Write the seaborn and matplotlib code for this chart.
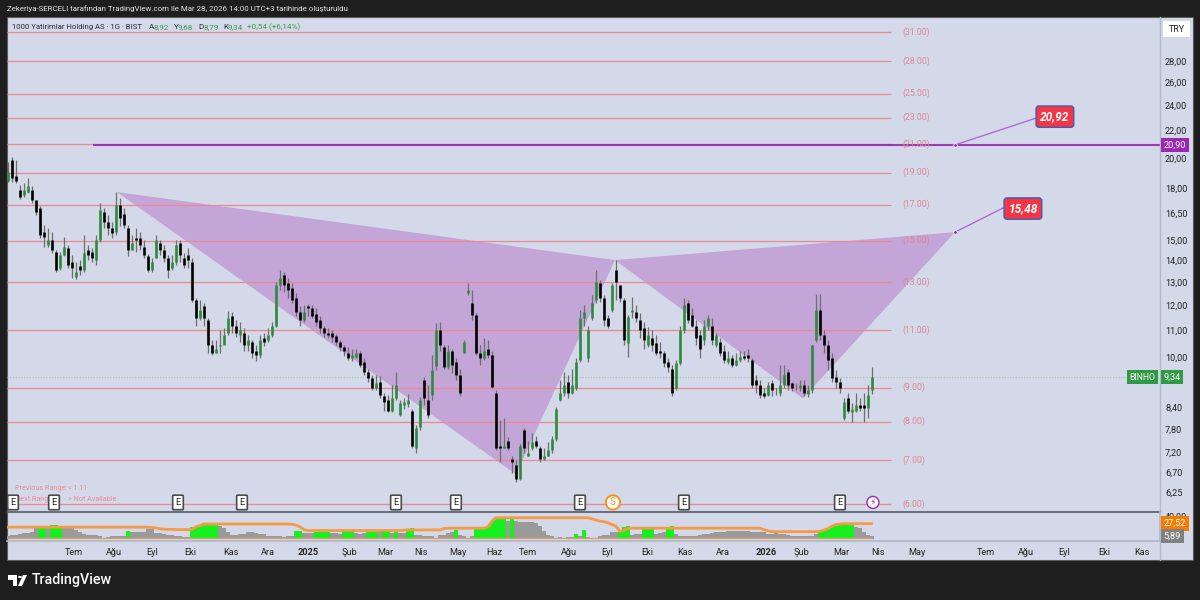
import numpy as np
import pandas as pd
import matplotlib
matplotlib.use("Agg")
import matplotlib.pyplot as plt
from matplotlib.patches import Rectangle, Polygon, Circle
from matplotlib.lines import Line2D
import seaborn as sns

#? Candles, one row per 10 bars
opens = [
    18.48, 19.85, 18.78, 17.88, 17.57, 17.76, 17.88, 17.27, 16.79, 15.45,
    14.76, 15.03, 14.41, 13.63, 14.26, 14.61, 13.92, 13.21, 13.73, 13.54,
    14.51, 14.41, 14.02, 15.03, 16.56, 16.00, 15.66, 15.45, 16.97, 16.45,
    15.66, 14.51, 15.13, 15.13, 14.66, 14.21, 13.54, 14.11, 14.87, 14.51,
    14.11, 13.63, 13.92, 14.87, 14.11, 14.26, 13.92, 12.19, 11.45, 11.94,
    11.37, 10.43, 10.17, 10.39, 10.43, 10.90, 11.53, 11.14, 10.79, 10.90,
    10.43, 10.53, 10.24, 10.07, 10.68, 10.61, 10.79, 11.17, 12.85, 13.30,
    12.94, 12.72, 12.28, 11.69, 11.37, 11.94, 11.86, 11.61, 11.37, 11.06,
    10.87, 10.87, 10.76, 10.53, 10.35, 10.14, 9.97, 10.00, 10.14, 9.83,
    9.49, 9.30, 8.98, 9.17, 8.73, 8.61, 8.31, 8.67, 8.18, 8.46,
    8.49, 8.31, 7.31, 7.84, 9.23, 8.61, 8.76, 9.72, 10.98, 10.35,
    9.66, 10.24, 9.83, 9.39, 10.14, 12.49, 12.07, 11.57, 10.17, 9.97,
    10.31, 10.07, 8.85, 7.36, 7.31, 7.49, 7.03, 6.87, 6.56, 7.76,
    7.11, 7.29, 7.49, 7.31, 7.03, 7.11, 7.24, 7.54, 8.61, 8.82,
    9.17, 8.85, 8.98, 9.90, 11.45, 9.97, 11.45, 12.19, 12.94, 12.28,
    11.45, 11.77, 13.54, 12.85, 12.19, 10.50, 11.69, 11.69, 11.37, 11.06,
    10.43, 10.68, 10.50, 10.24, 10.17, 9.83, 9.62, 8.98, 9.79, 10.98,
    12.07, 11.57, 11.17, 10.79, 10.61, 11.17, 11.17, 10.43, 10.53, 10.24,
    9.83, 9.97, 9.73, 9.90, 10.03, 10.07, 9.90, 9.23, 9.07, 8.85,
    8.76, 9.14, 8.82, 8.82, 9.07, 9.49, 9.14, 9.04, 8.98, 9.07,
    8.79, 8.92, 10.61, 11.77, 10.79, 10.43, 9.97, 9.33, 9.17, 8.09,
    8.67, 8.26, 8.31, 8.46, 8.46, 8.40, 8.92,
]
closes = [
    19.04, 18.65, 18.48, 17.45, 17.88, 18.13, 17.27, 16.56, 15.29, 15.18,
    15.03, 14.51, 13.54, 14.26, 14.66, 13.78, 13.63, 13.44, 13.54, 14.36,
    14.26, 14.11, 15.03, 16.68, 16.00, 15.66, 15.40, 16.97, 16.22, 15.83,
    14.51, 14.87, 15.03, 14.76, 14.26, 13.54, 13.92, 15.03, 14.51, 14.11,
    13.54, 13.92, 14.76, 14.26, 13.78, 14.02, 12.19, 11.45, 11.77, 11.45,
    10.43, 10.17, 10.31, 10.43, 10.79, 11.45, 11.17, 10.90, 10.98, 10.43,
    10.61, 10.17, 10.07, 10.61, 10.53, 10.79, 11.17, 12.85, 13.16, 12.85,
    12.63, 12.19, 11.69, 11.37, 11.69, 11.86, 11.53, 11.29, 11.06, 10.90,
    10.79, 10.72, 10.53, 10.35, 10.21, 9.97, 10.07, 10.17, 9.73, 9.49,
    9.30, 8.98, 9.14, 8.76, 8.55, 8.31, 8.67, 9.07, 8.52, 8.55,
    8.61, 7.36, 7.81, 8.61, 8.67, 8.18, 9.56, 10.98, 10.43, 9.66,
    10.24, 9.73, 9.39, 8.82, 10.53, 12.63, 11.57, 10.17, 9.97, 10.24,
    10.07, 9.01, 7.31, 7.31, 7.36, 7.29, 6.94, 6.56, 7.36, 7.31,
    7.18, 7.44, 7.36, 7.03, 7.11, 7.24, 7.54, 8.37, 8.85, 9.07,
    8.82, 9.07, 9.83, 11.45, 11.69, 10.98, 12.07, 12.98, 12.28, 11.37,
    11.17, 12.85, 12.98, 12.28, 10.61, 11.49, 11.77, 11.45, 10.98, 10.61,
    10.79, 10.43, 10.17, 10.14, 9.79, 9.66, 8.85, 9.79, 10.98, 11.98,
    11.37, 11.17, 10.68, 10.31, 11.17, 11.45, 10.61, 10.79, 10.17, 9.90,
    9.97, 9.73, 9.90, 10.00, 9.97, 9.97, 9.07, 9.07, 8.76, 8.73,
    9.07, 8.92, 8.82, 9.07, 9.39, 9.07, 8.98, 9.04, 9.07, 8.85,
    8.92, 10.43, 11.77, 10.79, 10.43, 9.90, 9.30, 9.17, 8.98, 8.55,
    8.31, 8.37, 8.46, 8.40, 8.40, 8.76, 9.34,
]
highs = [
    19.71, 20.06, 19.85, 18.20, 18.33, 18.65, 18.13, 17.27, 16.91, 15.83,
    15.66, 15.45, 14.51, 14.41, 15.18, 14.76, 14.26, 13.92, 14.02, 15.29,
    14.76, 14.61, 15.29, 17.09, 16.79, 16.39, 16.00, 17.76, 17.39, 16.79,
    15.83, 15.29, 15.66, 15.45, 15.03, 14.31, 14.11, 15.29, 15.03, 14.76,
    14.26, 14.26, 15.03, 15.03, 14.36, 14.61, 14.11, 12.28, 12.19, 12.07,
    11.45, 10.61, 10.61, 10.98, 11.06, 11.73, 11.69, 11.37, 11.29, 11.06,
    10.79, 10.61, 10.43, 10.79, 10.90, 11.06, 11.29, 12.98, 13.54, 13.44,
    13.16, 12.94, 12.49, 11.94, 11.98, 12.03, 11.98, 11.86, 11.53, 11.17,
    11.06, 10.98, 10.83, 10.61, 10.43, 10.35, 10.31, 10.31, 10.24, 9.97,
    9.62, 9.39, 9.39, 9.36, 8.85, 8.76, 9.07, 9.49, 8.61, 8.67,
    8.79, 8.37, 7.90, 8.70, 9.33, 9.07, 10.07, 11.25, 11.29, 10.43,
    10.43, 10.31, 9.97, 9.62, 10.61, 12.94, 12.63, 11.65, 10.43, 10.68,
    10.61, 10.24, 8.92, 8.03, 8.09, 7.57, 7.11, 6.99, 7.41, 7.81,
    7.49, 7.68, 7.60, 7.36, 7.29, 7.44, 7.60, 8.43, 9.23, 9.49,
    9.39, 9.62, 9.97, 11.77, 11.98, 11.17, 12.41, 13.54, 13.07, 12.41,
    11.57, 12.94, 14.02, 12.85, 12.28, 11.57, 12.32, 11.98, 11.65, 11.29,
    11.10, 10.98, 10.79, 10.53, 10.24, 9.97, 9.73, 9.90, 11.17, 12.28,
    12.19, 11.86, 11.37, 10.98, 11.37, 11.57, 11.45, 10.90, 10.68, 10.43,
    10.24, 10.07, 10.17, 10.24, 10.24, 10.31, 9.97, 9.39, 9.23, 8.98,
    9.17, 9.23, 8.98, 9.73, 9.73, 9.62, 9.17, 9.14, 9.23, 9.23,
    9.07, 10.43, 12.45, 12.45, 10.98, 10.61, 10.17, 9.56, 9.30, 8.67,
    8.85, 8.52, 8.85, 8.67, 8.82, 9.07, 9.68,
]
lows = [
    18.39, 18.39, 18.33, 17.33, 17.45, 17.70, 17.09, 16.39, 15.13, 14.66,
    14.66, 14.36, 13.44, 13.54, 14.21, 13.63, 13.16, 13.12, 13.30, 13.44,
    14.02, 13.92, 13.78, 14.92, 15.66, 15.29, 15.13, 15.29, 15.77, 15.66,
    14.21, 14.51, 14.41, 14.51, 14.11, 13.44, 13.44, 14.11, 14.26, 13.92,
    13.16, 13.54, 13.78, 13.92, 13.63, 13.63, 12.11, 11.17, 11.37, 11.17,
    10.17, 10.07, 10.14, 10.17, 10.61, 10.79, 10.90, 10.72, 10.53, 10.24,
    10.24, 9.97, 9.86, 9.97, 10.39, 10.53, 10.72, 11.10, 12.63, 12.54,
    12.28, 12.07, 11.53, 11.14, 11.29, 11.53, 11.45, 11.14, 10.90, 10.72,
    10.68, 10.53, 10.43, 10.21, 10.03, 9.90, 9.86, 9.97, 9.66, 9.39,
    9.17, 8.92, 8.92, 8.67, 8.31, 8.26, 8.26, 8.61, 8.15, 8.37,
    8.43, 7.31, 7.18, 7.76, 8.46, 8.09, 8.61, 9.56, 10.24, 9.60,
    9.60, 9.46, 9.23, 8.73, 10.14, 12.41, 11.37, 10.07, 9.73, 9.90,
    9.97, 8.98, 7.24, 6.94, 7.29, 7.24, 6.68, 6.49, 6.52, 7.18,
    7.09, 7.24, 7.29, 6.94, 6.99, 7.09, 7.18, 7.49, 8.58, 8.73,
    8.67, 8.79, 8.92, 9.83, 11.17, 9.83, 11.37, 12.07, 12.11, 11.17,
    11.06, 11.69, 12.19, 12.11, 10.43, 10.00, 11.45, 11.29, 10.68, 10.31,
    10.35, 10.24, 10.07, 9.97, 9.66, 9.49, 8.73, 8.92, 9.73, 10.90,
    11.25, 11.10, 10.43, 9.97, 10.43, 10.98, 10.43, 10.35, 10.03, 9.79,
    9.76, 9.66, 9.69, 9.83, 9.90, 9.83, 8.98, 8.85, 8.67, 8.67,
    8.73, 8.73, 8.76, 8.73, 8.98, 8.92, 8.89, 8.92, 8.89, 8.73,
    8.70, 8.85, 10.53, 10.61, 10.17, 9.56, 9.17, 8.98, 8.85, 8.03,
    8.23, 7.98, 8.26, 8.31, 8.00, 8.09, 8.79,
]

#? Indicator panel
hist_vals = [
    6, 7, 8, 10, 11, 11, 13, 20, 24, 24,
    20, 26, 25, 23, 20, 21, 20, 17, 12, 9,
    8, 7, 8, 6, 2, 4, 5, 5, 5, 6,
    14, 13, 12, 12, 13, 18, 19, 11, 11, 10,
    8, 8, 6, 5, 4, 4, 22, 22, 24, 28,
    29, 26, 26, 24, 20, 12, 7, 8, 9, 10,
    12, 13, 11, 10, 9, 6, 5, 5, 5, 4,
    6, 6, 14, 15, 11, 11, 11, 12, 12, 13,
    13, 11, 11, 10, 14, 14, 14, 11, 10, 11,
    13, 13, 13, 14, 15, 15, 11, 13, 11, 11,
    19, 20, 8, 7, 6, 5, 5, 3, 7, 8,
    11, 13, 17, 8, 5, 3, 6, 21, 22, 21,
    22, 32, 38, 40, 39, 33, 36, 33, 31, 31,
    30, 30, 28, 24, 15, 8, 5, 3, 4, 3,
    4, 4, 10, 5, 16, 4, 3, 3, 6, 7,
    8, 12, 13, 13, 22, 23, 8, 9, 10, 20,
    20, 20, 9, 11, 12, 22, 23, 10, 5, 5,
    5, 5, 6, 8, 9, 10, 11, 13, 13, 13,
    14, 14, 15, 15, 14, 14, 13, 13, 13, 12,
    9, 10, 11, 10, 9, 7, 6, 6, 5, 5,
    5, 6, 10, 15, 16, 20, 23, 24, 28, 28,
    29, 28, 22, 20, 13, 8, 5.89,
]
upper_vals = [
    21.4, 21.4, 21.4, 21.4, 21.4, 21.4, 21.4, 21.4, 21.4, 21.4,
    21.4, 21.4, 21.4, 21.4, 21.4, 21.4, 21.4, 21.4, 21.4, 21.4,
    21.4, 21.4, 21.4, 21.4, 21.4, 21.4, 21.4, 21.4, 21.4, 21.4,
    21.4, 21.4, 21.4, 21.4, 21.4, 21.2, 21.0, 20.0, 18.5, 18.0,
    17.5, 17.5, 17.0, 17.0, 17.0, 17.0, 17.0, 22.0, 24.0, 27.0,
    27.0, 27.0, 27.0, 27.0, 27.0, 27.0, 27.0, 27.0, 27.0, 27.0,
    27.0, 27.0, 27.0, 27.0, 27.0, 27.0, 27.0, 27.0, 27.0, 27.0,
    27.0, 26.5, 25.0, 22.0, 17.0, 15.5, 15.5, 15.5, 15.5, 15.5,
    15.5, 15.5, 15.5, 15.5, 15.5, 15.5, 15.5, 15.5, 15.5, 15.5,
    15.5, 15.5, 15.5, 15.5, 15.5, 15.5, 15.5, 15.5, 15.5, 16.0,
    16.5, 16.5, 16.5, 16.5, 16.5, 16.5, 16.5, 16.5, 16.5, 19.0,
    19.6, 19.6, 19.6, 19.6, 19.6, 19.6, 19.6, 19.6, 19.6, 19.6,
    22.0, 32.0, 38.0, 38.0, 38.0, 38.0, 38.0, 38.0, 38.0, 38.0,
    38.0, 38.0, 38.0, 38.0, 38.0, 38.0, 38.0, 38.0, 38.0, 38.0,
    38.0, 38.0, 38.0, 38.0, 38.0, 38.0, 36.0, 34.0, 32.0, 31.0,
    29.0, 26.0, 23.0, 14.0, 16.0, 19.0, 19.6, 19.6, 19.6, 19.6,
    19.6, 19.6, 19.6, 19.6, 19.6, 19.6, 19.6, 19.6, 19.6, 19.6,
    19.6, 19.6, 19.6, 19.6, 19.6, 19.6, 19.6, 19.6, 19.6, 19.6,
    19.6, 19.6, 19.6, 19.6, 19.6, 19.6, 19.6, 19.6, 19.6, 17.0,
    15.0, 13.5, 13.5, 13.5, 13.5, 13.5, 13.5, 13.5, 13.5, 13.5,
    13.5, 13.5, 13.5, 14.0, 16.0, 19.0, 23.0, 26.0, 27.0, 27.5,
    27.52, 27.52, 27.52, 27.52, 27.52, 27.52, 27.52,
]
lower_band = 2.2
green_start = [8, 11, 30, 46, 72, 77, 84, 90, 94, 97, 100, 112, 117, 126, 142, 144, 153, 159, 165, 203]
green_end = [9, 13, 30, 52, 73, 80, 86, 92, 95, 97, 101, 112, 124, 126, 142, 144, 155, 161, 166, 211]

#? Levels, pattern and callouts
fib_levels = [31, 28, 25, 23, 21, 19, 17, 15, 13, 11, 9, 8, 7, 6]
pattern_left_x = [27.25, 127, 151.75]
pattern_left_y = [17.76, 6.66, 14.02]
pattern_right_x = [151.75, 236.75, 198.75]
pattern_right_y = [14.02, 15.45, 8.67]
target_x = [236.75, 257]
target_y = [20.92, 22.96]
target2_x = [236.75, 248.75]
target2_y = [15.45, 16.8]

#? Axis labels and events
price_ticks = [28, 26, 24, 22, 20, 18, 16.5, 15, 14, 13, 12, 11, 10, 9.4, 8.4, 7.8, 7.2, 6.7, 6.25]
price_labels = ["28,00", "26,00", "24,00", "22,00", "20,00", "18,00", "16,50", "15,00", "14,00", "13,00",
                "12,00", "11,00", "10,00", "9,40", "8,40", "7,80", "7,20", "6,70", "6,25"]
month_pos = [16.5, 26.5, 36, 45.5, 55.75, 65, 75, 85.25, 94.25, 103.25, 112.5, 121.5, 130, 140.25,
             149.75, 159.75, 169.25, 178.75, 189.5, 198.5, 208.25, 217.5, 227.25, 244.5, 254.5, 264, 274, 283.5]
month_labels = ["Tem", "Ağu", "Eyl", "Eki", "Kas", "Ara", "2025", "Şub", "Mar", "Nis", "May", "Haz", "Tem", "Ağu",
                "Eyl", "Eki", "Kas", "Ara", "2026", "Şub", "Mar", "Nis", "May", "Tem", "Ağu", "Eyl", "Eki", "Kas"]
earnings_pos = [1.25, 11.5, 42.5, 58.5, 97, 112, 143, 169, 208]

BG = "#d3d9e8"
DARK = "#1e1e1e"
PINK = "#ee8794"
PURPLE = "#9c27b0"
GREEN = "#2e8b3e"

sns.set_theme(style="white")
plt.rcParams["font.family"] = ["Roboto", "DejaVu Sans"]
plt.rcParams["axes.unicode_minus"] = False

W, H = 1200, 600
fig = plt.figure(figsize=(12, 6), dpi=100, facecolor=DARK)


def box(x0, y0, x1, y1):
    return [x0 / W, 1 - y1 / H, (x1 - x0) / W, (y1 - y0) / H]


def fx(x):
    return x / W


def fy(y):
    return 1 - y / H


fig.add_artist(Rectangle((fx(7), fy(560)), 1186 / W, 543 / H, transform=fig.transFigure,
                         fc=BG, ec="#5a5a5a", lw=0.8, zorder=-5))

ax = fig.add_axes(box(7, 17, 1159.5, 511.5))
ax_vol = fig.add_axes(box(7, 511.5, 1159.5, 541), sharex=ax)
for a in (ax, ax_vol):
    a.patch.set_alpha(0)

bars = np.arange(len(closes))
opens_a, closes_a = np.array(opens), np.array(closes)
up = closes_a >= opens_a

#! Price panel
ax.set_yscale("log")
ax.fill(pattern_left_x, pattern_left_y, color="#c3a5d8", lw=0, zorder=1)
ax.fill(pattern_right_x, pattern_right_y, color="#c3a5d8", lw=0, zorder=1)

for lev in fib_levels:
    ax.hlines(lev, -0.25, 220.75, color=PINK, lw=0.9, zorder=2)
    ax.text(223.5, lev, f"({lev:.2f})", color="#e48592", fontsize=6.2, va="center", ha="left", zorder=3)
ax.hlines(20.9, 21.25, 288, color=PURPLE, lw=1.5, alpha=0.9, zorder=2.5)

ax.hlines(closes[-1], -0.25, 288, color="#a9bfa8", lw=0.8, linestyles=(0, (1, 1.5)), zorder=2)

ax.vlines(bars, lows, highs, color="#6f6f6f", lw=0.9, zorder=4)
ax.vlines(bars, np.minimum(opens_a, closes_a), np.maximum(opens_a, closes_a),
          colors=[GREEN if u else "#000000" for u in up], lw=1.9, zorder=5)

sns.lineplot(x=target_x, y=target_y, color="#b06bcf", lw=1, ax=ax, zorder=6, errorbar=None, sort=False)
sns.lineplot(x=target2_x, y=target2_y, color="#b06bcf", lw=1, ax=ax, zorder=6, errorbar=None, sort=False)
ax.plot([target_x[0], target2_x[0]], [target_y[0], target2_y[0]], ls="", marker="o", ms=2.6,
        mfc=PURPLE, mec="white", mew=0.5, zorder=7)

for tx, ty, lab in [(261.75, 23.08, "20,92"), (253.75, 16.77, "15,48")]:
    ax.text(tx, ty, lab, color="white", fontsize=8.6, fontweight="bold", fontstyle="italic",
            ha="center", va="center", zorder=8,
            bbox=dict(boxstyle="round,pad=0.35,rounding_size=0.25", fc="#f23645", ec="#3f5fb0", lw=1))

for pos in earnings_pos:
    ax.text(pos, 6.04, "E", color="#222222", fontsize=6.6, ha="center", va="center", zorder=8,
            bbox=dict(boxstyle="round,pad=0.3,rounding_size=0.1", fc="white", ec="#4a4a4a", lw=1.2))
ax.text(151.25, 6.04, "S", color="#f08a1d", fontsize=7, ha="center", va="center", zorder=8,
        bbox=dict(boxstyle="circle,pad=0.22", fc="white", ec="#f5921e", lw=1.4))
ax.text(216.25, 6.04, "⚡", color="#9c27b0", fontsize=6.8, ha="center", va="center", zorder=8,
        family=["DejaVu Sans"], bbox=dict(boxstyle="circle,pad=0.16", fc="white", ec="#9c27b0", lw=1))

ax.text(1.75, 6.34, "Previous Range:", color="#ec8b9a", fontsize=5.2, va="center", zorder=3)
ax.text(15, 6.34, "< 1.11", color="#ec8b9a", fontsize=5.2, va="center", zorder=3)
ax.text(1.75, 6.10, "Next Range:", color="#ec8b9a", fontsize=5.2, va="center", zorder=3)
ax.text(15, 6.10, "> Not Available", color="#ec8b9a", fontsize=5.2, va="center", zorder=3)

ax.set_xlim(-0.25, 287.9)
ax.set_ylim(5.853, 32.63)
ax.set_yticks(price_ticks)
ax.set_yticklabels(price_labels)
ax.minorticks_off()
ax.yaxis.tick_right()
ax.tick_params(axis="y", length=0, pad=4, labelsize=6.6, colors="#222222")
ax.tick_params(axis="x", length=0, labelbottom=False)
ax.set_xlabel("")
ax.set_ylabel("")

#? Price labels on the scale
ytr = ax.get_yaxis_transform()
ax.text(1.0035, 20.9, "20,90", transform=ytr, color="white", fontsize=6.6, va="center", ha="left", zorder=9,
        bbox=dict(boxstyle="square,pad=0.3", fc=PURPLE, ec="none"))
ax.text(1.0035, closes[-1], "9,34", transform=ytr, color="white", fontsize=6.6, va="center", ha="left", zorder=9,
        bbox=dict(boxstyle="square,pad=0.3", fc="#2f9a43", ec="none"))
ax.text(0.9965, closes[-1], "BINHO", transform=ytr, color="white", fontsize=6.2, va="center", ha="right", zorder=9,
        bbox=dict(boxstyle="square,pad=0.3", fc="#2f9a43", ec="none"))

for side in ["top", "left"]:
    ax.spines[side].set_visible(False)
ax.spines["bottom"].set_color("#4c4f5a")
ax.spines["bottom"].set_linewidth(1.1)
ax.spines["right"].set_color("#b2b8c8")
ax.spines["right"].set_linewidth(1)

#! Indicator panel
is_green = np.zeros(len(hist_vals), dtype=bool)
for s, e in zip(green_start, green_end):
    is_green[s:e + 1] = True
hist_df = pd.DataFrame({"bar": bars, "value": hist_vals, "state": np.where(is_green, "on", "off")})
sns.barplot(data=hist_df, x="bar", y="value", hue="state", palette={"on": "#17f01f", "off": "#9a9a9a"},
            native_scale=True, dodge=False, width=1, saturation=1, legend=False, ax=ax_vol, linewidth=0, zorder=2)
sns.lineplot(x=bars, y=upper_vals, color="#f59a45", lw=2, ax=ax_vol, errorbar=None, zorder=3)
ax_vol.hlines(lower_band, 0, bars[-1], color="#f0a060", lw=1, alpha=0.8, zorder=3)

ax_vol.set_xlim(-0.25, 287.9)
ax_vol.set_ylim(-3, 49)
ax_vol.set_yticks([40])
ax_vol.set_yticklabels(["40,00"])
ax_vol.yaxis.tick_right()
ax_vol.tick_params(axis="y", length=0, pad=4, labelsize=6.6, colors="#222222")
ax_vol.set_xticks(month_pos)
ax_vol.set_xticklabels(month_labels)
ax_vol.tick_params(axis="x", length=0, pad=5, labelsize=6.6, colors="#222222")
for lab in ax_vol.get_xticklabels():
    if lab.get_text() in ("2025", "2026"):
        lab.set_fontweight("bold")
ax_vol.set_xlabel("")
ax_vol.set_ylabel("")
for side in ["top", "left"]:
    ax_vol.spines[side].set_visible(False)
ax_vol.spines["bottom"].set_color("#b2b8c8")
ax_vol.spines["right"].set_color("#b2b8c8")

ytr2 = ax_vol.get_yaxis_transform()
ax_vol.text(1.0035, 27.52, "27,52", transform=ytr2, color="white", fontsize=6.6, va="center", ha="left", zorder=9,
            bbox=dict(boxstyle="square,pad=0.3", fc="#f57c00", ec="none"))
ax_vol.text(1.0035, 5.89, "5,89", transform=ytr2, color="white", fontsize=6.6, va="center", ha="left", zorder=9,
            bbox=dict(boxstyle="square,pad=0.3", fc="#808080", ec="none"))
fig.add_artist(Line2D([fx(1159.5), fx(1159.5)], [fy(541), fy(560)], color="#b2b8c8", lw=1))

#! Header, legend and logo
fig.text(fx(7), fy(9), "Zekeriya-SERCELI tarafından TradingView.com ile Mar 28, 2026 14:00 UTC+3 tarihinde oluşturuldu",
         color="#e4e4e4", fontsize=5.7, va="center")
fig.add_artist(Rectangle((fx(1163), fy(37)), 27 / W, 16 / H, transform=fig.transFigure, fc="white", ec="none", zorder=5))
fig.text(fx(1176.5), fy(29), "TRY", color="#222222", fontsize=6.4, va="center", ha="center", zorder=6)

fig.text(fx(12), fy(27), "1000 Yatirimlar Holding AS · 1G · BIST", color="#2a2e39", fontsize=5.6, va="center")
legend_green = "#3f9d4f"
for xp, s, c in [(149, "A", "#2a2e39"), (154, "8,92", legend_green), (174, "Y", "#2a2e39"), (178, "9,68", legend_green),
                 (198, "D", "#2a2e39"), (203, "8,79", legend_green), (223, "K", "#2a2e39"), (228, "9,34", legend_green),
                 (247, "+0,54 (+6,14%)", legend_green)]:
    fig.text(fx(xp), fy(27), s, color=c, fontsize=5.9, va="center")

fig.add_artist(Polygon([[fx(8), fy(575)], [fx(17), fy(575)], [fx(17), fy(586)], [fx(13), fy(586)], [fx(13), fy(580)], [fx(8), fy(580)]],
                       closed=True, transform=fig.transFigure, fc="white", ec="none"))
fig.add_artist(Circle((fx(20), fy(577)), 2 / W, transform=fig.transFigure, fc="white", ec="none"))
fig.add_artist(Polygon([[fx(23), fy(575)], [fx(27), fy(575)], [fx(22), fy(586)], [fx(18), fy(586)]],
                       closed=True, transform=fig.transFigure, fc="white", ec="none"))
fig.text(fx(32), fy(580), "TradingView", color="white", fontsize=10.3, fontweight="medium", va="center")

fig.savefig("out.png", dpi=100, facecolor=DARK)
